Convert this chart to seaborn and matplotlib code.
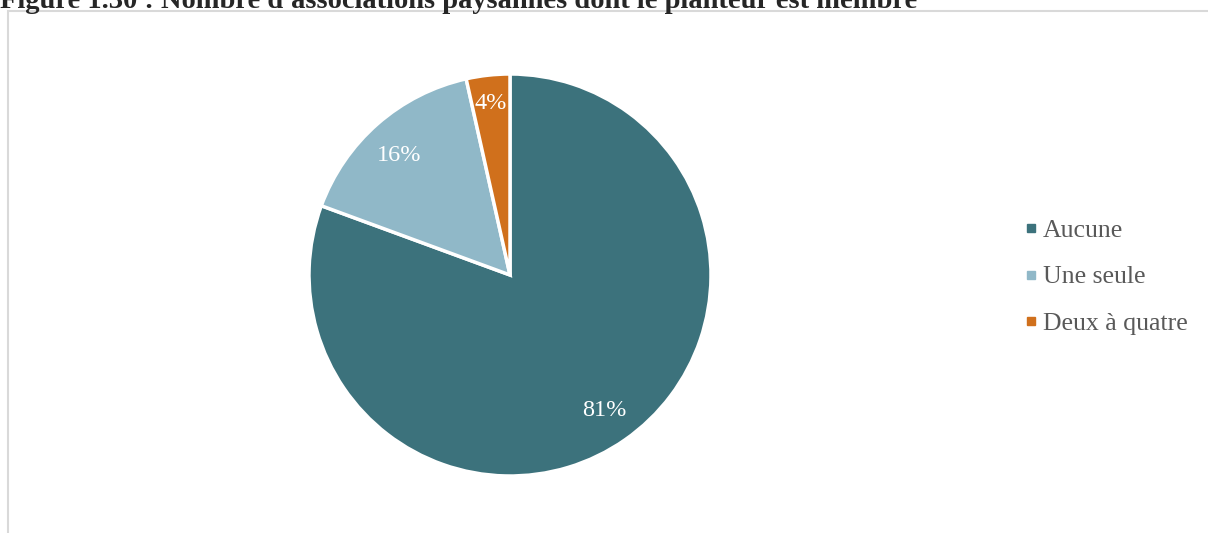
import numpy as np
import matplotlib.pyplot as plt
import seaborn as sns
from matplotlib.lines import Line2D
from matplotlib.patches import Rectangle

# data
categories = ["Aucune", "Une seule", "Deux à quatre"]
shares = [80.6, 15.9, 3.5]
pct_labels = ["81%", "16%", "4%"]
colors = ["#3C727C", "#90B8C8", "#D0701C"]
title = "Figure 1.30 : Nombre d'associations paysannes dont le planteur est membre"

sns.set_style("white")
plt.rcParams["font.family"] = ["Liberation Serif", "DejaVu Serif"]

W, H = 1208, 533
fig = plt.figure(figsize=(W / 100, H / 100), dpi=100)

# light grey chart frame (cut off at bottom and right)
fig.patches.append(Rectangle((8 / W, -0.05), 1.2, 1 - 11 / H + 0.05,
                             transform=fig.transFigure, fill=False,
                             edgecolor="#D9D9D9", linewidth=1.5))

fig.text(0.0, 1 - 8 / H, title, fontsize=20.5, fontweight="bold",
         ha="left", va="baseline")

cx, cy, r = 510, 275, 201
ax = fig.add_axes([(cx - r) / W, (H - cy - r) / H, 2 * r / W, 2 * r / H])
wedges, _ = ax.pie(shares, colors=colors, startangle=90, counterclock=False,
                   wedgeprops=dict(edgecolor="white", linewidth=2.5, clip_on=False))
ax.set_xlim(-1, 1)
ax.set_ylim(-1, 1)
ax.axis("off")

label_r = [0.82, 0.81, 0.86]
for w, lab, rr in zip(wedges, pct_labels, label_r):
    ang = np.deg2rad((w.theta1 + w.theta2) / 2 + (1.5 if lab == "16%" else 0))
    ax.text(rr * np.cos(ang), rr * np.sin(ang), lab, color="white",
            fontsize=17.5, ha="center", va="center")

handles = [Line2D([], [], marker="s", linestyle="", markersize=6,
                  markerfacecolor=c, markeredgecolor=c) for c in colors]
fig.legend(handles, categories, loc="center left",
           bbox_to_anchor=(998 / W, 1 - 277 / H), frameon=False,
           fontsize=18.5, labelcolor="#595959", handletextpad=0.05,
           handlelength=0.8, labelspacing=0.9)

fig.savefig("out.png", dpi=100)
